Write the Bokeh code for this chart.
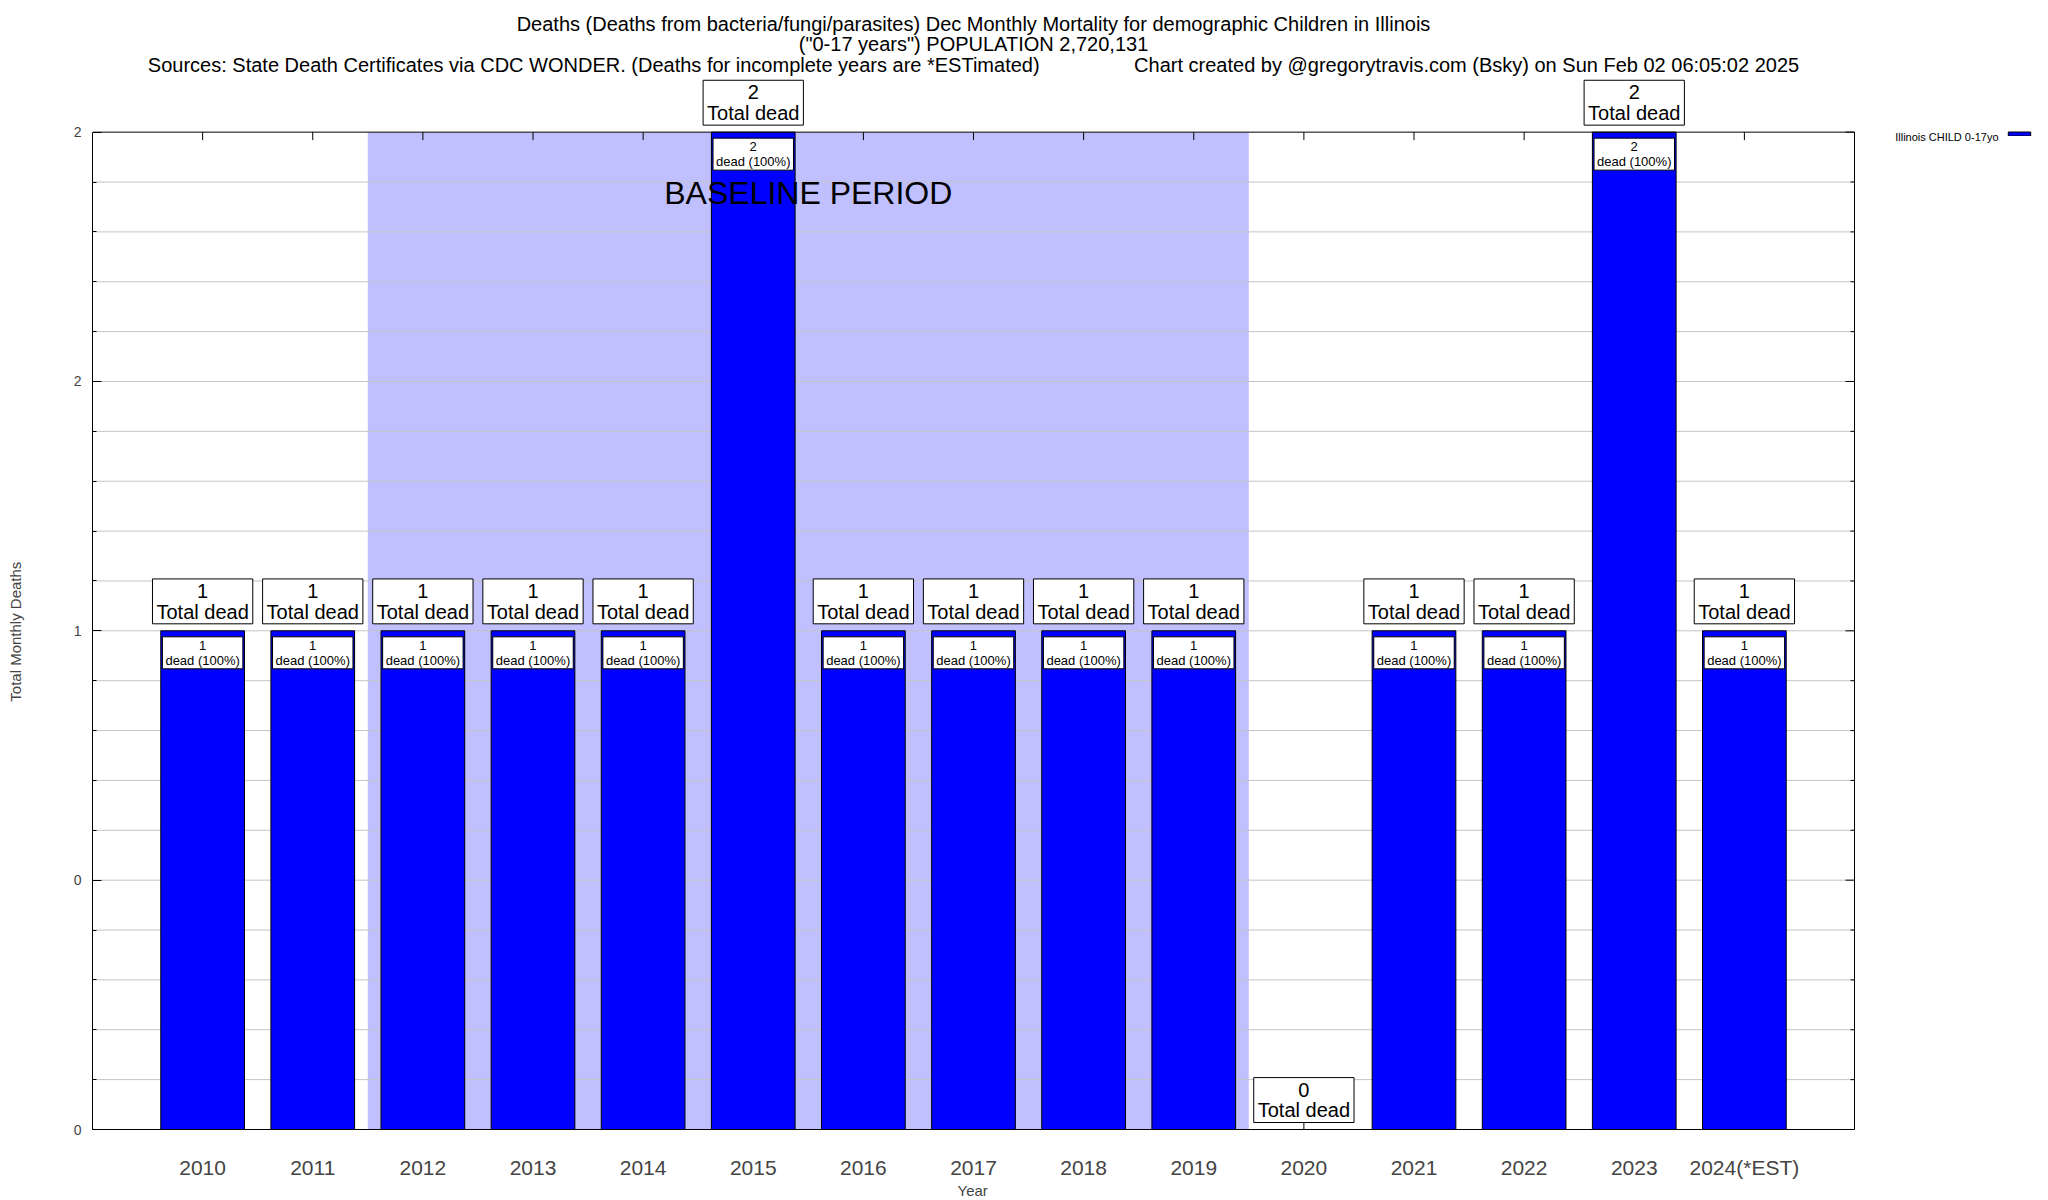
import math
from bokeh.plotting import figure
from bokeh.models import (FixedTicker, Range1d, Label, Title, Legend, LegendItem)
from bokeh.embed import file_html
from bokeh.resources import INLINE

# ---------------- data ----------------
years = ["2010", "2011", "2012", "2013", "2014", "2015", "2016", "2017",
         "2018", "2019", "2020", "2021", "2022", "2023", "2024(*EST)"]
deaths = [1, 1, 1, 1, 1, 2, 1, 1, 1, 1, 0, 1, 1, 2, 1]
share_pct = [100, 100, 100, 100, 100, 100, 100, 100, 100, 100, 0, 100, 100, 100, 100]
baseline_first, baseline_last = "2012", "2019"
series_name = "Illinois CHILD 0-17yo"
y_ticks = [0, 0.5, 1, 1.5, 2]
y_tick_labels = ["0", "0", "1", "2", "2"]
y_minor_ticks = [0.1, 0.2, 0.3, 0.4, 0.6, 0.7, 0.8, 0.9, 1.1, 1.2, 1.3, 1.4,
                 1.6, 1.7, 1.8, 1.9]
title_line1 = ("Deaths (Deaths from bacteria/fungi/parasites) Dec Monthly Mortality "
               "for demographic Children in Illinois")
title_line2 = '("0-17 years") POPULATION 2,720,131'
source_note = ("Sources: State Death Certificates via CDC WONDER. "
               "(Deaths for incomplete years are *ESTimated)")
credit_note = "Chart created by @gregorytravis.com (Bsky) on Sun Feb 02 06:05:02 2025"
y_label = "Total Monthly Deaths"
x_label = "Year"
shade_text = "BASELINE PERIOD"

# ---------------- layout constants (pixels) ----------------
FONT = "Liberation Sans"
NBSP = "\u00a0"
W, H = 2048, 1200
LEFT, TOP, RIGHT, BOTTOM = 92, 132, 1854, 1132      # gnuplot-style plot box

n = len(years)
xs = list(range(n))
x0, x1 = -1, n                   # plot box x extent (data)
y0, y1 = 0, max(deaths)          # plot box y extent (data)
ux = (x1 - x0) / (RIGHT - LEFT)  # data units per px
uy = (y1 - y0) / (BOTTOM - TOP)

# bokeh frame spans from the plot box's left/bottom to the canvas top/right
p = figure(width=W, height=H, output_backend="svg", toolbar_location=None,
           x_range=Range1d(x0, x0 + (W - LEFT) * ux),
           y_range=Range1d(y0, y0 + BOTTOM * uy),
           min_border_left=LEFT, min_border_right=0, min_border_top=0,
           min_border_bottom=H - BOTTOM, title=None)
p.background_fill_color = "white"
p.border_fill_color = "white"
p.outline_line_color = None
p.xgrid.visible = False
p.ygrid.visible = False

# bottom axis
xa = p.xaxis[0]
xa.ticker = FixedTicker(ticks=xs)
xa.bounds = (x0, x1)
xa.major_label_overrides = {i: y for i, y in zip(xs, years)}
xa.major_label_text_font = FONT
xa.major_label_text_font_size = "21px"
xa.major_label_standoff = 26
xa.axis_line_color = "black"
xa.major_tick_in = 0
xa.major_tick_out = 0
xa.minor_tick_line_color = None

# left axis (label padded so that it is centred on the plot box, not the frame)
ya = p.yaxis[0]
ya.ticker = FixedTicker(ticks=y_ticks, minor_ticks=y_minor_ticks)
ya.bounds = (y0, y1)
ya.major_label_overrides = {t: s for t, s in zip(y_ticks, y_tick_labels)}
ya.major_label_text_font = FONT
ya.major_label_text_font_size = "14px"
ya.major_label_standoff = 11
ya.axis_line_color = "black"
ya.major_tick_line_color = "black"
ya.minor_tick_line_color = "black"
ya.major_tick_in = 9
ya.major_tick_out = 0
ya.minor_tick_in = 4
ya.minor_tick_out = 0
ya.axis_label = y_label + NBSP * 32
ya.axis_label_text_font = FONT
ya.axis_label_text_font_size = "15px"
ya.axis_label_text_font_style = "normal"
ya.axis_label_standoff = 47

p.add_layout(Title(text=x_label, align="left", text_font=FONT, text_font_size="15px",
                   text_font_style="normal", standoff=0, vertical_align="top",
                   offset=(RIGHT - LEFT) / 2 - 16), "below")

# baseline shading
i0, i1 = years.index(baseline_first), years.index(baseline_last)
p.quad(left=[xs[i0] - 0.5], right=[xs[i1] + 0.5], bottom=[y0], top=[y1],
       fill_color="#c0c0ff", line_color=None)

# grid lines inside the plot box
grid_vals = sorted(y_ticks + y_minor_ticks)[1:-1]
p.segment(x0=[x0] * len(grid_vals), x1=[x1] * len(grid_vals), y0=grid_vals, y1=grid_vals,
          line_color="#c4c4c4", line_width=1)

# inward ticks: top and bottom (at categories), right (mirrored y)
p.ray(x=xs, y=[y1] * n, length=8, angle=-math.pi / 2, length_units="screen",
      line_color="black")
p.ray(x=xs, y=[y0] * n, length=8, angle=math.pi / 2, length_units="screen",
      line_color="black")
p.ray(x=[x1] * len(y_ticks), y=y_ticks, length=9, angle=math.pi, length_units="screen",
      line_color="black")
p.ray(x=[x1] * len(y_minor_ticks), y=y_minor_ticks, length=4, angle=math.pi,
      length_units="screen", line_color="black")

# bars
bars = p.vbar(x=xs, top=deaths, bottom=0, width=0.76, fill_color="#0000ff",
              line_color="black", line_width=1)

# top / right border of plot box
p.segment(x0=[x0, x1], x1=[x1, x1], y0=[y1, y0], y1=[y1, y1], line_color="black",
          line_width=1)

# chart titles (inside the extended frame, above the plot box)
xc = (x0 + x1) / 2
gap = NBSP * 17
for txt, off in [(title_line1, -23), (title_line2, -43),
                 (source_note + gap + credit_note, -64)]:
    p.add_layout(Label(x=xc, y=p.y_range.end, y_offset=off, text=txt, text_align="center",
                       text_baseline="middle", text_font=FONT, text_font_size="20px",
                       text_color="black"))

p.add_layout(Label(x=(xs[i0] + xs[i1]) / 2, y=y1, y_offset=-61, text=shade_text,
                   text_align="center", text_baseline="middle", text_font=FONT,
                   text_font_size="32px", text_color="black"))

# value labels
for x, v, pc in zip(xs, deaths, share_pct):
    p.add_layout(Label(x=x, y=v, y_offset=7, text=f"{v}\nTotal dead", text_align="center",
                       text_baseline="bottom", text_font=FONT, text_font_size="20px",
                       text_line_height=0.95, text_color="black",
                       background_fill_color="white", border_line_color="black",
                       padding=(4, 1)))
    if v > 0:
        p.add_layout(Label(x=x, y=v, y_offset=-6, text=f"{v}\ndead ({pc}%)",
                           text_align="center", text_baseline="top", text_font=FONT,
                           text_font_size="13px", text_line_height=1.0, text_color="black",
                           background_fill_color="white", border_line_color="black",
                           padding=(3, 1)))

# legend (text to the left of the swatch, as in the original)
legend = Legend(items=[LegendItem(label=" ", renderers=[bars])],
                location=(1913, BOTTOM - 139),
                glyph_width=28, glyph_height=5, label_width=0, label_height=0,
                label_standoff=0, label_text_font_size="1px", padding=0, margin=0,
                spacing=0, border_line_color=None, background_fill_alpha=0)
p.add_layout(legend)
p.add_layout(Label(x=x1, y=y1, x_offset=144, y_offset=-5, text=series_name,
                   text_align="right", text_baseline="middle", text_font=FONT,
                   text_font_size="11px", text_color="black"))

open("out.html", "w").write(file_html(p, INLINE))
